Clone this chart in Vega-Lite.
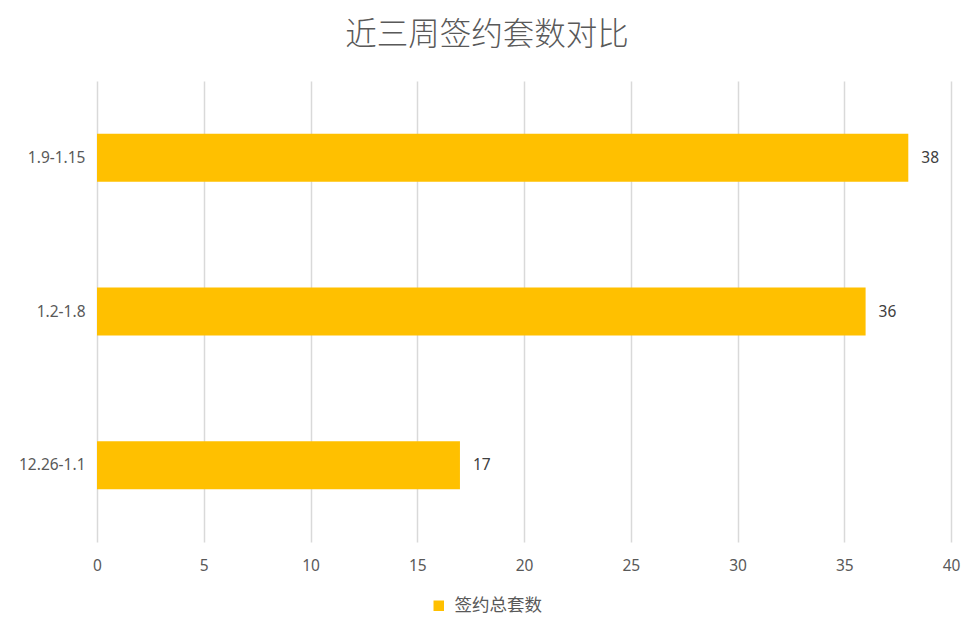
{
  "$schema": "https://vega.github.io/schema/vega-lite/v6.json",
  "width": 854,
  "height": 461,
  "autosize": {"type": "none"},
  "padding": {"left": 97, "top": 81, "right": 23, "bottom": 95},
  "background": "white",
  "title": {
    "text": "近三周签约套数对比",
    "font": "Noto Sans CJK SC",
    "fontSize": 31.5,
    "fontWeight": 300,
    "color": "#595959",
    "anchor": "middle",
    "dx": -37,
    "offset": 30
  },
  "data": {
    "values": [
      {"period": "1.9-1.15", "count": 38, "series": "签约总套数"},
      {"period": "1.2-1.8", "count": 36, "series": "签约总套数"},
      {"period": "12.26-1.1", "count": 17, "series": "签约总套数"}
    ]
  },
  "encoding": {
    "y": {
      "field": "period",
      "type": "nominal",
      "sort": ["1.9-1.15", "1.2-1.8", "12.26-1.1"],
      "scale": {"paddingInner": 0.687, "paddingOuter": 0.343},
      "axis": {
        "title": null,
        "domain": false,
        "ticks": false,
        "labelPadding": 12,
        "labelFont": "Noto Sans",
        "labelFontSize": 15.5,
        "labelColor": "#595959"
      }
    },
    "x": {
      "field": "count",
      "type": "quantitative",
      "scale": {"domain": [0, 40]},
      "axis": {
        "title": null,
        "values": [0, 5, 10, 15, 20, 25, 30, 35, 40],
        "domain": false,
        "ticks": false,
        "grid": true,
        "gridColor": "#d9d9d9",
        "gridWidth": 1.5,
        "labelFlush": false,
        "labelPadding": 16,
        "labelFont": "Noto Sans",
        "labelFontSize": 15.5,
        "labelColor": "#595959"
      }
    }
  },
  "layer": [
    {
      "mark": {"type": "bar"},
      "encoding": {
        "color": {
          "field": "series",
          "type": "nominal",
          "scale": {"range": ["#FFC000"]},
          "legend": {
            "title": null,
            "orient": "none",
            "legendX": 333,
            "legendY": 516,
            "symbolType": "square",
            "symbolSize": 110,
            "symbolStrokeWidth": 0,
            "labelFont": "Noto Sans CJK SC",
            "labelFontSize": 17.5,
            "labelColor": "#595959",
            "labelOffset": 7
          }
        }
      }
    },
    {
      "mark": {
        "type": "text",
        "align": "left",
        "baseline": "middle",
        "dx": 13,
        "font": "Noto Sans",
        "fontSize": 15.5,
        "color": "#404040"
      },
      "encoding": {
        "text": {"field": "count", "type": "quantitative"}
      }
    }
  ],
  "config": {
    "view": {"stroke": null}
  }
}
